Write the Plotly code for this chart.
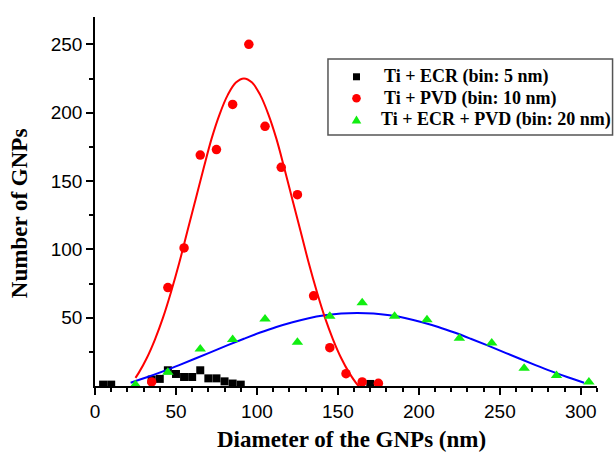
import plotly.graph_objects as go

# ---- data ----
ecr_x = [5, 10, 35, 40, 45, 50, 55, 60, 65, 70, 75, 80, 85, 90, 170]
ecr_y = [1, 1, 4.7, 5.2, 11.5, 8.8, 6.6, 6.6, 11.5, 5.6, 5.6, 3.4, 1.8, 1, 1.5]

pvd_x = [35, 45, 55, 65, 75, 85, 95, 105, 115, 125, 135, 145, 155, 165, 175]
pvd_y = [3, 72, 101, 169, 173, 206, 250, 190, 160, 140, 66, 28, 9, 3, 2]

both_x = [25, 45, 65, 85, 105, 125, 145, 165, 185, 205, 225, 245, 265, 285, 305]
both_y = [1, 10, 27, 34, 49, 32, 51, 61, 51, 48.5, 35, 31.5, 13, 7.6, 3]

# fitted curves
pvd_fit_x = [25, 27, 32, 37, 42, 47, 52, 57, 62, 67, 72, 77, 82, 87, 92,
             97, 102, 107, 112, 117, 122, 127, 132, 137, 142, 147, 152, 157, 162, 163]
pvd_fit_y = [6, 9.6, 20.5, 34, 50, 69, 90, 113, 136, 159, 181, 199, 213, 222, 225,
             222, 213, 199, 181, 159, 136, 113, 90, 69, 50, 34, 20.5, 9.6, 1.1, 0]

both_fit_x = [22, 32, 42, 52, 62, 72, 82, 92, 102, 112, 122, 132, 142, 152, 162,
              172, 182, 192, 202, 212, 222, 232, 242, 252, 262, 272, 282, 292, 302]
both_fit_y = [2.4, 6.4, 10.7, 15.3, 20.1, 25.0, 29.9, 34.6, 39.1, 43.2, 46.7, 49.6, 51.7, 53.1, 53.5,
              53.1, 51.7, 49.6, 46.7, 43.2, 39.1, 34.6, 29.9, 25.0, 20.1, 15.3, 10.7, 6.4, 2.4]

x_ticks = [0, 50, 100, 150, 200, 250, 300]
y_ticks = [50, 100, 150, 200, 250]

names = ["Ti + ECR (bin: 5 nm)", "Ti + PVD (bin: 10 nm)", "Ti + ECR + PVD (bin: 20 nm)"]

RED = "#ff0000"
GREEN = "#11ee11"
BLUE = "#0000ff"

fig = go.Figure()

fig.add_trace(go.Scatter(x=ecr_x, y=ecr_y, mode="markers", name=names[0],
                         marker=dict(symbol="square", size=8, color="black")))
fig.add_trace(go.Scatter(x=both_fit_x, y=both_fit_y, mode="lines", showlegend=False,
                         line=dict(color=BLUE, width=2, shape="spline")))
fig.add_trace(go.Scatter(x=pvd_fit_x, y=pvd_fit_y, mode="lines", showlegend=False,
                         line=dict(color=RED, width=2, shape="spline")))
fig.add_trace(go.Scatter(x=pvd_x, y=pvd_y, mode="markers", name=names[1],
                         marker=dict(symbol="circle", size=9.5, color=RED)))
fig.add_trace(go.Scatter(x=both_x, y=both_y, mode="markers", name=names[2],
                         marker=dict(symbol="triangle-up", size=10, color=GREEN)))

axis_common = dict(
    showline=True, linecolor="black", linewidth=1.5, mirror=False,
    ticks="outside", ticklen=7, tickwidth=1.5, tickcolor="black",
    showgrid=False, zeroline=False,
    tickfont=dict(family="Liberation Sans, Arial, sans-serif", size=19, color="black"),
)

fig.update_xaxes(range=[0, 310], tickmode="array", tickvals=x_ticks,
                 minor=dict(dtick=10, ticks="outside", ticklen=4, tickwidth=1.5,
                            tickcolor="black", showgrid=False),
                 **axis_common)
fig.update_yaxes(range=[0, 270], tickmode="array", tickvals=y_ticks,
                 minor=dict(tickvals=[25, 75, 125, 175, 225], ticks="outside", ticklen=4,
                            tickwidth=1.5, tickcolor="black", showgrid=False),
                 **axis_common)

serif = "Liberation Serif, Times New Roman, serif"
title_font = dict(family=serif, size=23, color="black", weight="bold")

fig.add_annotation(text="Number of GNPs", textangle=-90, xref="paper", yref="paper",
                   x=-0.149, y=0.469, xanchor="center", yanchor="middle",
                   showarrow=False, font=title_font)
fig.add_annotation(text="Diameter of the GNPs (nm)", xref="paper", yref="paper",
                   x=0.51, y=-0.146, xanchor="center", yanchor="middle",
                   showarrow=False, font=title_font)

# ---- legend box drawn by hand (tighter rows than plotly's own legend) ----
fig.add_shape(type="rect", xref="paper", yref="paper",
              x0=0.4641, x1=1.031, y0=0.680, y1=0.886,
              line=dict(color="#555555", width=1.5), fillcolor="white", layer="above")

leg_font = dict(family=serif, size=18, color="black", weight="bold")
row_y = [0.838, 0.7797, 0.7209]
text_x = [0.5711, 0.5711, 0.5663]
mark_x = 0.5209

for i in range(3):
    fig.add_annotation(text=names[i], xref="paper", yref="paper", x=text_x[i], y=row_y[i],
                       xanchor="left", yanchor="middle", showarrow=False, font=leg_font)

# square
fig.add_shape(type="rect", xref="paper", yref="paper", xsizemode="pixel", ysizemode="pixel",
              xanchor=mark_x, yanchor=row_y[0], x0=-3.5, x1=3.5, y0=-3.5, y1=3.5,
              fillcolor="black", line=dict(width=0), layer="above")
# circle
fig.add_shape(type="circle", xref="paper", yref="paper", xsizemode="pixel", ysizemode="pixel",
              xanchor=mark_x, yanchor=row_y[1], x0=-4.3, x1=4.3, y0=-4.3, y1=4.3,
              fillcolor=RED, line=dict(width=0), layer="above")
# triangle
fig.add_shape(type="path", xref="paper", yref="paper", xsizemode="pixel", ysizemode="pixel",
              xanchor=mark_x, yanchor=row_y[2], path="M -4.8,-3.6 L 4.8,-3.6 L 0,4.4 Z",
              fillcolor=GREEN, line=dict(width=0), layer="above")

fig.update_layout(
    width=615, height=454,
    margin=dict(l=95, r=18, t=17, b=68),
    plot_bgcolor="white", paper_bgcolor="white",
    showlegend=False,
)

fig.write_html("out.html", config={"displayModeBar": False},
               post_script="document.body.style.margin='0';document.body.style.overflow='hidden';")
